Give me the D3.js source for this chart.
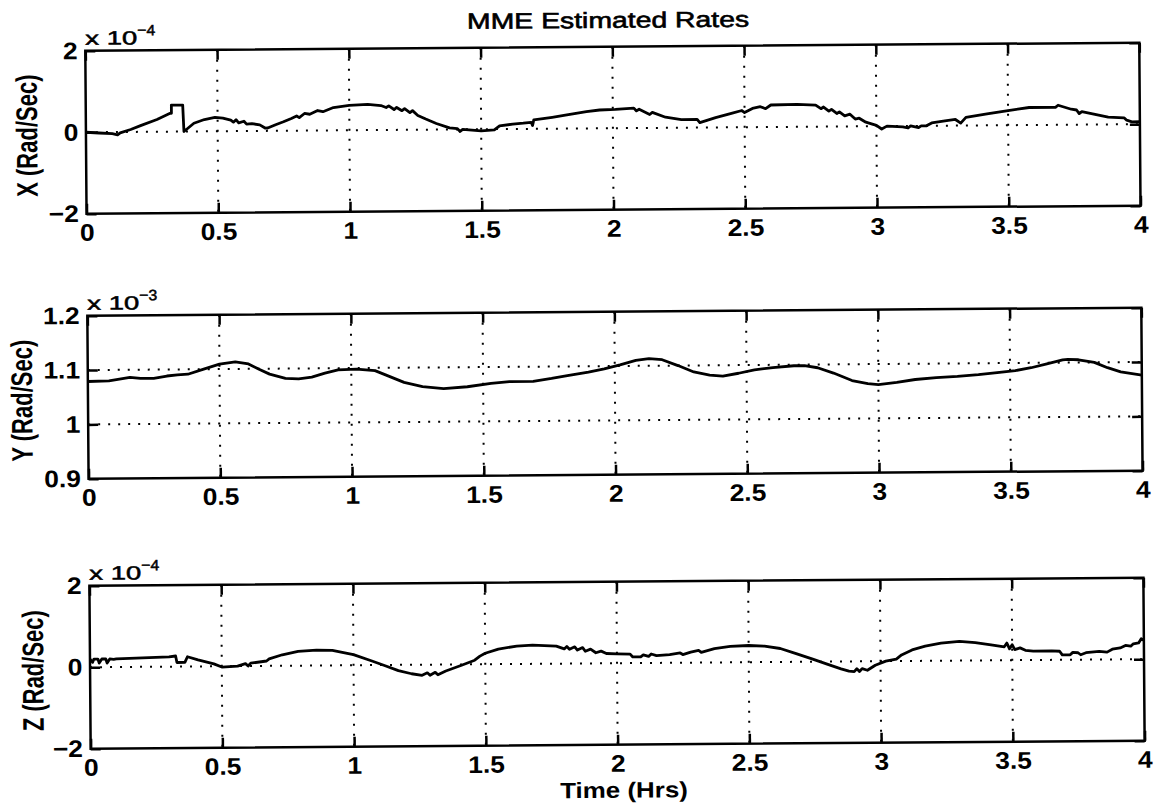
<!DOCTYPE html>
<html>
<head>
<meta charset="utf-8">
<script src="https://cdn.jsdelivr.net/npm/d3@7"></script>
<style>
    body { margin: 0; background: #fff; }
    svg { display: block; font-family: "Liberation Sans", Arial, Helvetica, sans-serif; }
</style>
</head>
<body>
<svg id="chart" width="1157" height="807"></svg>
<script>
// time axis (hours)
const timeTicks = [0, 0.5, 1, 1.5, 2, 2.5, 3, 3.5, 4];

// y ticks, in the units shown on each panel (x 10^-4 / x 10^-3 / x 10^-4)
const xRateTicks = [-2, 0, 2];
const yRateTicks = [0.9, 1, 1.1, 1.2];
const zRateTicks = [-2, 0, 2];

// MME estimated X rate, [hrs, x 10^-4 rad/sec]
const xRate = [
    [0, 0], [0.05, -0.02], [0.1, -0.04], [0.12, -0.07], [0.13, -0.02], [0.17, 0.06], [0.21, 0.16],
    [0.27, 0.3], [0.32, 0.45], [0.325, 0.45], [0.325, 0.65], [0.368, 0.65], [0.372, 0.0],
    [0.41, 0.2], [0.45, 0.29], [0.49, 0.34], [0.52, 0.32], [0.55, 0.27], [0.56, 0.22], [0.57, 0.28],
    [0.58, 0.2], [0.6, 0.24], [0.61, 0.17], [0.63, 0.18], [0.66, 0.15], [0.68, 0.07], [0.69, 0.07],
    [0.72, 0.15], [0.75, 0.22], [0.78, 0.3], [0.8, 0.36], [0.81, 0.32], [0.83, 0.42], [0.85, 0.4],
    [0.88, 0.49], [0.9, 0.46], [0.94, 0.56], [1.0, 0.61], [1.07, 0.63], [1.12, 0.6], [1.14, 0.55],
    [1.15, 0.59], [1.17, 0.5], [1.18, 0.55], [1.2, 0.47], [1.21, 0.52], [1.23, 0.42], [1.24, 0.47],
    [1.26, 0.35], [1.29, 0.26], [1.33, 0.15], [1.38, 0.04], [1.41, 0.02], [1.42, -0.05], [1.43, 0.0],
    [1.5, -0.04], [1.55, -0.02], [1.57, 0.08], [1.62, 0.12], [1.66, 0.14], [1.69, 0.16], [1.695, 0.08],
    [1.7, 0.22], [1.77, 0.28], [1.82, 0.33], [1.9, 0.41], [1.95, 0.45], [2.01, 0.46], [2.08, 0.49],
    [2.09, 0.42], [2.1, 0.46], [2.14, 0.33], [2.15, 0.38], [2.2, 0.26], [2.26, 0.2], [2.32, 0.2],
    [2.33, 0.12], [2.39, 0.24], [2.45, 0.34], [2.49, 0.41], [2.5, 0.36], [2.53, 0.46], [2.56, 0.5],
    [2.58, 0.45], [2.6, 0.54], [2.7, 0.55], [2.77, 0.53], [2.79, 0.44], [2.8, 0.48], [2.82, 0.38],
    [2.83, 0.42], [2.85, 0.32], [2.86, 0.36], [2.88, 0.26], [2.9, 0.3], [2.92, 0.18], [2.935, 0.2],
    [2.96, 0.1], [3.0, 0.02], [3.02, -0.07], [3.04, 0.0], [3.1, -0.02], [3.12, -0.05], [3.13, 0.0],
    [3.16, -0.04], [3.17, 0.0], [3.19, 0.0], [3.21, 0.07], [3.26, 0.12], [3.3, 0.15], [3.32, 0.06],
    [3.34, 0.2], [3.42, 0.28], [3.5, 0.36], [3.58, 0.43], [3.68, 0.43], [3.69, 0.48], [3.74, 0.38],
    [3.76, 0.36], [3.77, 0.27], [3.78, 0.32], [3.83, 0.25], [3.88, 0.18], [3.94, 0.16], [3.95, 0.1],
    [3.97, 0.06], [4.0, 0.06]
];

// MME estimated Y rate, [hrs, x 10^-3 rad/sec]
const yRate = [
    [0, 1.079], [0.08, 1.08], [0.16, 1.086], [0.2, 1.084], [0.25, 1.084], [0.3, 1.088], [0.34, 1.09],
    [0.38, 1.091], [0.44, 1.1], [0.5, 1.109], [0.56, 1.113], [0.61, 1.109], [0.65, 1.099], [0.69, 1.09],
    [0.75, 1.082], [0.8, 1.081], [0.85, 1.084], [0.9, 1.091], [0.95, 1.097], [1.02, 1.098], [1.09, 1.095],
    [1.13, 1.087], [1.2, 1.073], [1.27, 1.065], [1.35, 1.061], [1.44, 1.064], [1.53, 1.07], [1.6, 1.073],
    [1.69, 1.073], [1.76, 1.078], [1.82, 1.083], [1.9, 1.089], [1.96, 1.095], [2.02, 1.102], [2.08, 1.11],
    [2.13, 1.113], [2.18, 1.111], [2.24, 1.1], [2.3, 1.088], [2.36, 1.082], [2.41, 1.08], [2.47, 1.085],
    [2.53, 1.091], [2.6, 1.095], [2.68, 1.098], [2.72, 1.098], [2.77, 1.094], [2.83, 1.084], [2.9, 1.07],
    [2.96, 1.064], [3.0, 1.062], [3.07, 1.066], [3.14, 1.071], [3.22, 1.074], [3.3, 1.076], [3.38, 1.079],
    [3.46, 1.083], [3.52, 1.086], [3.58, 1.091], [3.64, 1.098], [3.7, 1.105], [3.72, 1.106], [3.76, 1.105],
    [3.82, 1.1], [3.87, 1.09], [3.92, 1.082], [4.0, 1.076]
];

// MME estimated Z rate, [hrs, x 10^-4 rad/sec]
const zRate = [
    [0, 0.2], [0.01, 0.12], [0.015, 0.2], [0.03, 0.2], [0.035, 0.1], [0.045, 0.2], [0.06, 0.2],
    [0.065, 0.1], [0.075, 0.2], [0.09, 0.19], [0.1, 0.2], [0.2, 0.22], [0.3, 0.24], [0.325, 0.26],
    [0.33, 0.1], [0.36, 0.1], [0.37, 0.24], [0.41, 0.16], [0.47, 0.06], [0.5, -0.02], [0.56, 0.0],
    [0.59, 0.06], [0.6, 0.0], [0.61, 0.07], [0.67, 0.12], [0.68, 0.17], [0.73, 0.27], [0.79, 0.35],
    [0.86, 0.38], [0.92, 0.37], [1.0, 0.26], [1.07, 0.1], [1.12, -0.02], [1.17, -0.14], [1.22, -0.22],
    [1.26, -0.26], [1.28, -0.2], [1.29, -0.26], [1.31, -0.19], [1.32, -0.25], [1.35, -0.16], [1.41, -0.02],
    [1.46, 0.1], [1.48, 0.2], [1.5, 0.27], [1.55, 0.37], [1.62, 0.44], [1.68, 0.46], [1.77, 0.43],
    [1.8, 0.36], [1.81, 0.42], [1.82, 0.35], [1.84, 0.41], [1.85, 0.33], [1.87, 0.39], [1.88, 0.3],
    [1.9, 0.35], [1.92, 0.26], [1.94, 0.3], [1.96, 0.24], [2.0, 0.23], [2.05, 0.22], [2.06, 0.15],
    [2.09, 0.15], [2.1, 0.2], [2.12, 0.16], [2.13, 0.22], [2.15, 0.18], [2.2, 0.2], [2.24, 0.24],
    [2.25, 0.2], [2.28, 0.26], [2.31, 0.3], [2.32, 0.25], [2.37, 0.34], [2.43, 0.39], [2.5, 0.41],
    [2.56, 0.39], [2.62, 0.33], [2.68, 0.2], [2.74, 0.07], [2.8, -0.07], [2.85, -0.18], [2.88, -0.24],
    [2.9, -0.25], [2.91, -0.18], [2.92, -0.25], [2.93, -0.18], [2.95, -0.22], [2.98, -0.1], [3.02, 0.0],
    [3.06, 0.05], [3.08, 0.15], [3.12, 0.27], [3.17, 0.36], [3.23, 0.43], [3.3, 0.47], [3.36, 0.44],
    [3.42, 0.38], [3.47, 0.33], [3.48, 0.42], [3.49, 0.28], [3.5, 0.38], [3.51, 0.26], [3.53, 0.3],
    [3.55, 0.24], [3.58, 0.22], [3.65, 0.22], [3.68, 0.21], [3.69, 0.12], [3.72, 0.12], [3.73, 0.18],
    [3.75, 0.17], [3.76, 0.12], [3.78, 0.17], [3.83, 0.2], [3.86, 0.18], [3.88, 0.25], [3.91, 0.28],
    [3.93, 0.34], [3.95, 0.32], [3.96, 0.38], [3.98, 0.4], [3.99, 0.5], [4.0, 0.46]
];

const panelLeft = 88;
const panelWidth = 1054;
const panelHeight = 163;
const fmt = d3.format('~g');

const panels = [
    { top: 47, data: xRate, domain: [-2, 2], ticks: xRateTicks, grid: [0], label: 'X (Rad/Sec)', exp: '\u22124', labelOff: 59 },
    { top: 312, data: yRate, domain: [0.9, 1.2], ticks: yRateTicks, grid: [1, 1.1], label: 'Y (Rad/Sec)', exp: '\u22123', labelOff: 66 },
    { top: 582, data: zRate, domain: [-2, 2], ticks: zRateTicks, grid: [0], label: 'Z (Rad/Sec)', exp: '\u22124', labelOff: 57 }
];

const svg = d3.select('#chart');
svg.append('rect').attr('width', 1157).attr('height', 807).attr('fill', '#fff');
// the scan is turned a little
const root = svg.append('g').attr('transform', 'rotate(-0.44,578,400)');

function styleTicks(sel) {
    sel.select('.domain').remove();
    sel.selectAll('.tick line').attr('stroke', '#000').attr('stroke-width', 2.5);
    sel.selectAll('.tick text')
        .attr('fill', '#000')
        .style('font-size', '24px')
        .style('font-weight', 'bold')
        .style('font-family', '"Liberation Sans", Arial, sans-serif')
        .attr('transform', 'scale(1.1,1)');
}

panels.forEach(p => {
    const x = d3.scaleLinear().domain([0, 4]).range([0, panelWidth]);
    const y = d3.scaleLinear().domain(p.domain).range([panelHeight, 0]);
    const g = root.append('g').attr('transform', `translate(${panelLeft},${p.top})`);

    // dotted grid
    g.append('g').selectAll('line').data(timeTicks.slice(1, -1)).join('line')
        .attr('x1', d => x(d)).attr('x2', d => x(d))
        .attr('y1', 0).attr('y2', panelHeight)
        .attr('stroke', '#000').attr('stroke-width', 2).attr('stroke-dasharray', '2 8');
    g.append('g').selectAll('line').data(p.grid).join('line')
        .attr('x1', 0).attr('x2', panelWidth)
        .attr('y1', d => y(d)).attr('y2', d => y(d))
        .attr('stroke', '#000').attr('stroke-width', 2).attr('stroke-dasharray', '2 8');

    // the rate curve
    g.append('path')
        .datum(p.data)
        .attr('d', d3.line().x(d => x(d[0])).y(d => y(d[1])))
        .attr('fill', 'none')
        .attr('stroke', '#000')
        .attr('stroke-width', 2.8)
        .attr('stroke-linejoin', 'round');

    // axes, ticks inward
    g.append('g').attr('transform', `translate(0,${panelHeight})`)
        .call(d3.axisBottom(x).tickValues(timeTicks).tickSize(-10).tickPadding(10).tickFormat(fmt))
        .call(styleTicks);
    g.append('g')
        .call(d3.axisTop(x).tickValues(timeTicks).tickSize(-10).tickFormat(''))
        .call(styleTicks);
    g.append('g')
        .call(d3.axisLeft(y).tickValues(p.ticks).tickSize(-10).tickPadding(7).tickFormat(fmt))
        .call(styleTicks);
    g.append('g').attr('transform', `translate(${panelWidth},0)`)
        .call(d3.axisRight(y).tickValues(p.ticks).tickSize(-10).tickFormat(''))
        .call(styleTicks);

    g.append('rect')
        .attr('width', panelWidth).attr('height', panelHeight)
        .attr('fill', 'none').attr('stroke', '#000').attr('stroke-width', 2.5);

    // exponent
    g.append('text')
        .attr('x', 0).attr('y', -6)
        .attr('font-size', 19).attr('fill', '#000').attr('stroke', '#000').attr('stroke-width', 0.5)
        .attr('textLength', 52).attr('lengthAdjust', 'spacingAndGlyphs')
        .text('x 10');
    g.append('text')
        .attr('x', 52).attr('y', -15)
        .attr('font-size', 15).attr('fill', '#000').attr('stroke', '#000').attr('stroke-width', 0.5)
        .attr('textLength', 18).attr('lengthAdjust', 'spacingAndGlyphs')
        .text(p.exp);

    // y label
    g.append('text')
        .attr('transform', `translate(${-p.labelOff},${panelHeight / 2 + 3}) scale(1.35,1) rotate(-90)`)
        .attr('text-anchor', 'middle')
        .attr('dominant-baseline', 'central')
        .attr('font-size', 22).attr('font-weight', 'bold').attr('fill', '#000')
        .text(p.label);
});

root.append('text')
    .attr('transform', 'translate(611,28) scale(1.29,1)')
    .attr('text-anchor', 'middle')
    .attr('font-size', 22).attr('fill', '#000').attr('stroke', '#000').attr('stroke-width', 0.6)
    .text('MME Estimated Rates');

root.append('text')
    .attr('transform', 'translate(621,798) scale(1.18,1)')
    .attr('text-anchor', 'middle')
    .attr('font-size', 22).attr('font-weight', 'bold').attr('fill', '#000')
    .text('Time (Hrs)');
</script>
</body>
</html>
